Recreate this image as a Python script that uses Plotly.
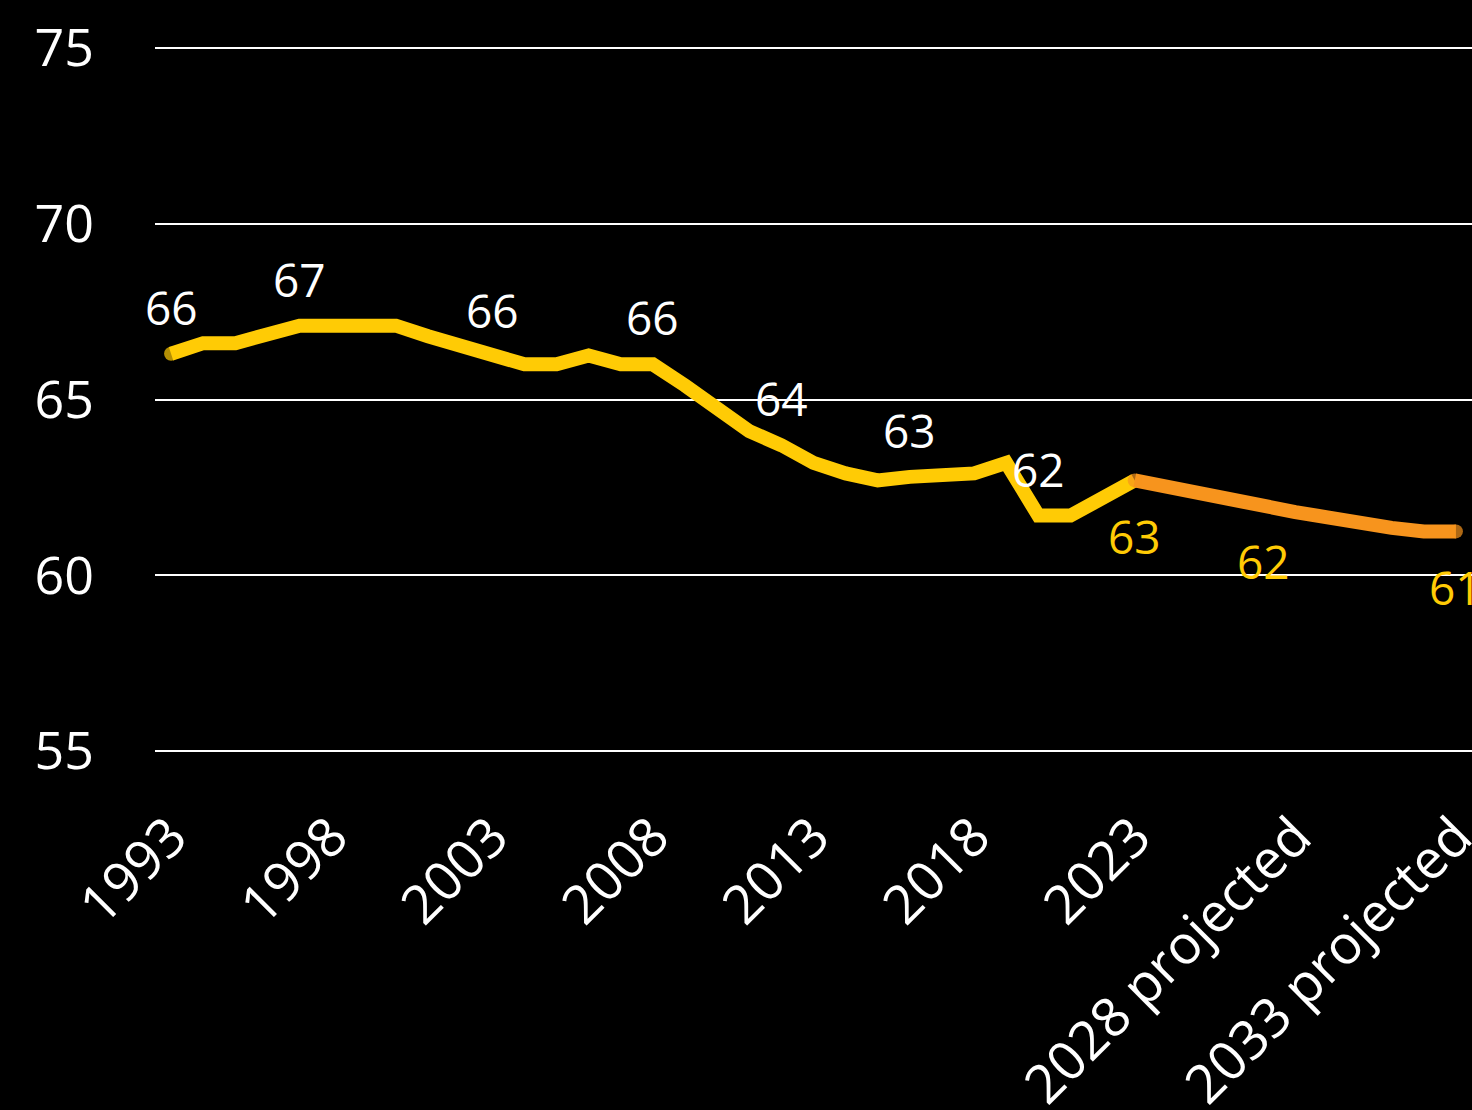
import plotly.graph_objects as go

# Annual series, 1993-2023 observed and 2023-2033 projected
years = list(range(1993, 2034))
values = [66.3, 66.6, 66.6, 66.8, 67.1, 67.1, 67.1, 67.1, 66.8, 66.5,
          66.2, 66.0, 66.0, 66.25, 66.0, 66.0, 65.4, 64.7, 64.1, 63.7,
          63.2, 62.9, 62.7, 62.8, 62.9, 62.9, 63.2, 61.7, 61.7, 62.2,
          62.7, 62.5, 62.3, 62.1, 62.0, 61.8, 61.65, 61.45, 61.35, 61.25,
          61.25]
split_year = 2023

# Years that carry a value label, above or below the line
labels_above = [1993, 1997, 2003, 2008, 2012, 2016, 2020]
labels_below = [2023, 2027, 2033]

tick_years = [1993, 1998, 2003, 2008, 2013, 2018, 2023, 2028, 2033]
tick_text = ["1993", "1998", "2003", "2008", "2013", "2018", "2023",
             "2028 projected", "2033 projected"]

YELLOW = "#FFCB05"
ORANGE = "#F7941D"
FONT = "Open Sans"

split_idx = years.index(split_year)
hist_x, hist_y = years[:split_idx + 1], values[:split_idx + 1]
proj_x, proj_y = years[split_idx:], values[split_idx:]

fig = go.Figure()
fig.add_trace(go.Scatter(
    x=hist_x, y=hist_y, mode="lines+markers",
    line=dict(color=YELLOW, width=14),
    marker=dict(color=YELLOW, size=[14] + [0] * (len(hist_x) - 1),
                line=dict(width=0)),
    hoverinfo="skip", showlegend=False,
))
fig.add_trace(go.Scatter(
    x=proj_x, y=proj_y, mode="lines+markers",
    line=dict(color=ORANGE, width=14),
    marker=dict(color=ORANGE, size=[14] + [0] * (len(proj_x) - 2) + [14],
                line=dict(width=0)),
    hoverinfo="skip", showlegend=False,
))

annotations = []
for yr in labels_above:
    v = values[years.index(yr)]
    annotations.append(dict(x=yr, y=v, text=f"{v:.0f}", showarrow=False,
                            yshift=47, font=dict(color="white", size=46, family=FONT)))
for yr in labels_below:
    v = values[years.index(yr)]
    annotations.append(dict(x=yr, y=v, text=f"{v:.0f}", showarrow=False,
                            yshift=-56, font=dict(color=YELLOW, size=46, family=FONT)))

fig.update_layout(
    width=1472, height=1110,
    margin=dict(l=155, r=0, t=46, b=357),
    paper_bgcolor="black", plot_bgcolor="black",
    font=dict(family=FONT, color="white", size=46),
    annotations=annotations,
    xaxis=dict(
        range=[1992.5, 2033.5], tickvals=tick_years, ticktext=tick_text,
        tickangle=-45, showgrid=False, zeroline=False, showline=False,
        ticks="", ticklabelstandoff=40, ticklabeloverflow="allow",
        automargin=False,
        tickfont=dict(size=54, color="white", family=FONT),
    ),
    yaxis=dict(
        range=[54.95, 75.05], tickvals=[55, 60, 65, 70, 75],
        showgrid=True, gridcolor="white", gridwidth=1.5,
        zeroline=False, showline=False, ticks="", ticklabelstandoff=60,
        automargin=False,
        tickfont=dict(size=52, color="white", family=FONT),
    ),
)

fig.write_html("out.html")
